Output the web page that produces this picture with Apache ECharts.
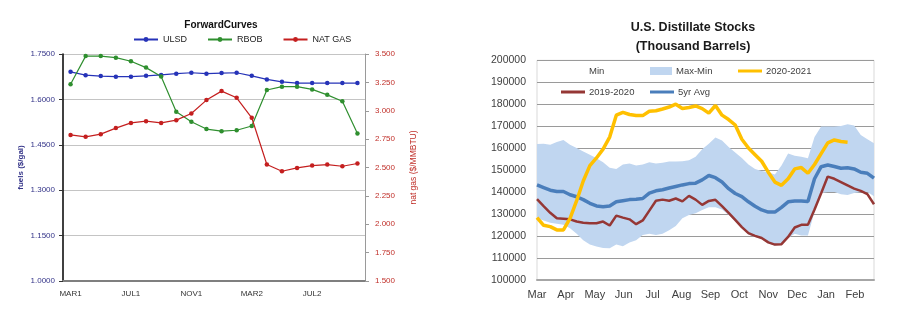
<!DOCTYPE html>
<html>
<head>
<meta charset="utf-8">
<script src="https://cdn.jsdelivr.net/npm/echarts@6/dist/echarts.min.js"></script>
<style>
  html, body { margin: 0; padding: 0; background: #ffffff; }
  #chart { width: 897px; height: 330px; }
</style>
</head>
<body>
<div id="chart"></div>
<script>
// ---- Forward curves (monthly contracts) ----
const fcMonths = ['MAR1','APR1','MAY1','JUN1','JUL1','AUG1','SEP1','OCT1','NOV1','DEC1',
                  'JAN2','FEB2','MAR2','APR2','MAY2','JUN2','JUL2','AUG2','SEP2','OCT2'];
const ulsd   = [1.691,1.680,1.677,1.675,1.675,1.678,1.681,1.685,1.688,1.685,
                1.687,1.688,1.678,1.666,1.658,1.654,1.654,1.654,1.654,1.654];
const rbob   = [1.650,1.743,1.743,1.738,1.726,1.705,1.676,1.559,1.526,1.502,
                1.495,1.498,1.512,1.631,1.642,1.642,1.633,1.615,1.594,1.487];
const natGas = [2.787,2.770,2.794,2.847,2.893,2.908,2.893,2.917,2.976,3.094,
                3.173,3.114,2.938,2.526,2.467,2.496,2.517,2.526,2.511,2.535];

// ---- U.S. distillate stocks (weekly, thousand barrels) ----
const stockMonths = ['Mar','Apr','May','Jun','Jul','Aug','Sep','Oct','Nov','Dec','Jan','Feb'];
const weeks = Array.from({ length: 52 }, (_, i) => 'W' + (i + 1));
const stockMin = [128000,127000,126000,125500,125000,123500,121000,118000,116000,115100,
                  114500,114300,116000,115200,117000,118000,120400,121000,120400,121000,
                  122500,124500,128000,129500,130300,131800,133000,133000,132000,129500,
                  126500,123500,120500,119500,118500,116600,115600,116000,119000,121000,
                  120200,120200,131000,139500,140000,140000,139000,138600,139500,140000,
                  140000,138000];
const stockMax = [161800,162000,161500,162800,163700,161500,160000,158400,157000,155400,
                  153500,151000,150500,152500,153000,152000,152500,153500,153000,153300,
                  153900,153900,154000,154500,156000,159500,162000,164800,163500,160500,
                  158000,155500,152500,150500,149500,149000,148000,152000,157500,156500,
                  156000,155400,165000,169800,169800,169800,170000,170900,170300,166000,
                  164000,162200];
const y2020_21 = [128300,124800,124200,122700,122700,128000,136000,145000,152000,155500,
                  159500,165000,175000,176300,175300,174800,174800,176800,177000,177800,
                  178700,180000,178000,178500,179200,178000,175900,179400,175000,173000,
                  170500,164000,160000,157000,154000,149000,144500,143000,146000,150500,
                  151100,148500,152500,157500,162400,163700,163000,162700,null,null,
                  null,null];
const y2019_20 = [136700,133500,130500,128000,127800,127500,126500,126000,125700,125700,
                  126500,124700,129200,128300,127500,125300,127000,131500,136000,136500,
                  136000,137000,135700,138200,136500,134100,135900,136400,133500,130500,
                  127300,124000,121200,120000,119000,117000,116000,116200,119500,123800,
                  125000,125000,132000,139400,147000,146000,144500,143000,141500,140500,
                  139000,134400];
const avg5yr   = [143200,142000,140800,140200,140200,138700,137800,136500,134800,133600,
                  133300,133600,135500,136000,136500,136700,137000,139500,140500,141000,
                  141800,142500,143200,143800,144000,145500,147500,146500,144500,141500,
                  139300,137900,135500,133500,131800,130800,130800,133000,135500,135900,
                  135900,135600,146000,151500,152300,151600,150800,151000,150500,149000,
                  148500,146300];

// band height stacked on top of the minimum
const bandSpan = stockMax.map((v, i) => v - stockMin[i]);

const leftFont = 'Arial, "Liberation Sans", sans-serif';
const navy = '#333388';
const gasRed = '#c0302a';

const chart = echarts.init(document.getElementById('chart'), null, { renderer: 'canvas' });

function stockLegend(name, left, top, opts) {
  return Object.assign({
    data: [name], left: left, top: top, orient: 'horizontal',
    itemWidth: 24, itemHeight: 3, icon: 'rect', padding: 0, itemGap: 0,
    textStyle: { fontFamily: leftFont, fontSize: 9.5, color: '#404040', padding: [0, 0, 0, -1] },
    selectedMode: false
  }, opts || {});
}

chart.setOption({
  animation: false,
  title: [
    {
      text: 'ForwardCurves', left: 221, top: 20, textAlign: 'center', padding: 0,
      textStyle: { fontFamily: leftFont, fontSize: 10, fontWeight: 'bold', color: '#111' }
    },
    {
      text: 'U.S. Distillate Stocks\n(Thousand Barrels)', left: 693, top: 18, textAlign: 'center', padding: 0,
      textStyle: { fontFamily: leftFont, fontSize: 12.5, fontWeight: 'bold', color: '#1a1a1a', lineHeight: 18.7 }
    }
  ],
  legend: [
    {
      data: ['ULSD', 'RBOB', 'NAT GAS'], left: 133, top: 35, padding: 0,
      itemWidth: 24, itemHeight: 6, itemGap: 20, selectedMode: false,
      textStyle: { fontFamily: leftFont, fontSize: 9, color: '#222' }
    },
    stockLegend('Min', 561, 66, { itemStyle: { color: 'rgba(0,0,0,0)' } }),
    stockLegend('Max-Min', 650, 66, { itemWidth: 22, itemHeight: 8 }),
    stockLegend('2020-2021', 738, 66),
    stockLegend('2019-2020', 561, 87),
    stockLegend('5yr Avg', 650, 87)
  ],
  grid: [
    { left: 63, top: 54, width: 302, height: 227 },
    { left: 537, top: 60.3, width: 337, height: 219.4, show: true, borderColor: '#d9d9d9', borderWidth: 1 }
  ],
  xAxis: [
    {
      type: 'category', gridIndex: 0, data: fcMonths, boundaryGap: true, position: 'bottom',
      axisLine: { lineStyle: { color: '#7f7f7f', width: 2 } },
      axisTick: { interval: 3, length: 4, lineStyle: { color: '#333', width: 1 } },
      axisLabel: { interval: 3, margin: 9, fontFamily: leftFont, fontSize: 8, color: '#333' },
      splitLine: { show: false }
    },
    {
      type: 'category', gridIndex: 1, data: weeks, boundaryGap: false, position: 'bottom',
      axisLine: { show: false }, axisTick: { show: false }, axisLabel: { show: false },
      splitLine: { show: false }
    },
    {
      // month labels laid out on an even scale under the weekly data
      type: 'value', gridIndex: 1, position: 'bottom', min: 0, max: 11.66, interval: 1,
      axisLine: { show: true, onZero: false, lineStyle: { color: '#a6a6a6', width: 2 } },
      axisTick: { show: false },
      splitLine: { show: false },
      axisLabel: {
        margin: 10, fontFamily: leftFont, fontSize: 11, color: '#404040',
        formatter: v => (Number.isInteger(v) && stockMonths[v]) ? stockMonths[v] : ''
      }
    }
  ],
  yAxis: [
    {
      type: 'value', gridIndex: 0, min: 1.0, max: 1.75, interval: 0.15,
      name: 'fuels ($/gal)', nameLocation: 'middle', nameRotate: 90, nameGap: 38,
      nameTextStyle: { fontFamily: leftFont, fontSize: 8, fontWeight: 'bold', color: navy },
      axisLine: { show: true, lineStyle: { color: '#000', width: 1.5 } },
      axisTick: { show: true, length: 4, lineStyle: { color: '#333' } },
      axisLabel: { margin: 8, fontFamily: leftFont, fontSize: 8, color: navy, formatter: v => v.toFixed(4) },
      splitLine: { show: true, lineStyle: { color: '#c4c4c4', width: 1 } }
    },
    {
      type: 'value', gridIndex: 0, position: 'right', min: 1.5, max: 3.5, interval: 0.25,
      name: 'nat gas ($/MMBTU)', nameLocation: 'middle', nameRotate: 90, nameGap: 44,
      nameTextStyle: { fontFamily: leftFont, fontSize: 8.5, color: gasRed },
      axisLine: { show: true, lineStyle: { color: '#9a9a9a', width: 1 } },
      axisTick: { show: true, length: 4, lineStyle: { color: '#9a9a9a' } },
      axisLabel: { margin: 10, fontFamily: leftFont, fontSize: 8, color: gasRed, formatter: v => v.toFixed(3) },
      splitLine: { show: false }
    },
    {
      type: 'value', gridIndex: 1, min: 100000, max: 200000, interval: 10000,
      axisLine: { show: false }, axisTick: { show: false },
      axisLabel: { margin: 11, fontFamily: leftFont, fontSize: 10.5, color: '#404040', formatter: v => String(v) },
      splitLine: { show: true, lineStyle: { color: '#9a9a9a', width: 1 } }
    }
  ],
  series: [
    {
      name: 'ULSD', type: 'line', xAxisIndex: 0, yAxisIndex: 0, data: ulsd,
      symbol: 'circle', symbolSize: 4.5, color: '#2633b8',
      lineStyle: { width: 1.2, color: '#2633b8' }, itemStyle: { color: '#2633b8' }
    },
    {
      name: 'RBOB', type: 'line', xAxisIndex: 0, yAxisIndex: 0, data: rbob,
      symbol: 'circle', symbolSize: 4.5, color: '#2f8f2f',
      lineStyle: { width: 1.2, color: '#2f8f2f' }, itemStyle: { color: '#2f8f2f' }
    },
    {
      name: 'NAT GAS', type: 'line', xAxisIndex: 0, yAxisIndex: 1, data: natGas,
      symbol: 'circle', symbolSize: 4.5, color: '#c41f1f',
      lineStyle: { width: 1.2, color: '#c41f1f' }, itemStyle: { color: '#c41f1f' }
    },
    {
      name: 'Min', type: 'line', xAxisIndex: 1, yAxisIndex: 2, data: stockMin, stack: 'band',
      symbol: 'none', lineStyle: { width: 0, opacity: 0 }, itemStyle: { color: 'rgba(0,0,0,0)' }
    },
    {
      name: 'Max-Min', type: 'line', xAxisIndex: 1, yAxisIndex: 2, data: bandSpan, stack: 'band',
      symbol: 'none', lineStyle: { width: 0, opacity: 0 },
      itemStyle: { color: '#c0d6f0' }, areaStyle: { color: '#c0d6f0', opacity: 1 }
    },
    {
      name: '2019-2020', type: 'line', xAxisIndex: 1, yAxisIndex: 2, data: y2019_20,
      symbol: 'none', lineStyle: { width: 2.5, color: '#953735' }, itemStyle: { color: '#953735' }
    },
    {
      name: '5yr Avg', type: 'line', xAxisIndex: 1, yAxisIndex: 2, data: avg5yr,
      symbol: 'none', lineStyle: { width: 3.5, color: '#4a7ebb' }, itemStyle: { color: '#4a7ebb' }
    },
    {
      name: '2020-2021', type: 'line', xAxisIndex: 1, yAxisIndex: 2, data: y2020_21,
      symbol: 'none', lineStyle: { width: 3.5, color: '#ffc000' }, itemStyle: { color: '#ffc000' }
    }
  ]
});
</script>
</body>
</html>
